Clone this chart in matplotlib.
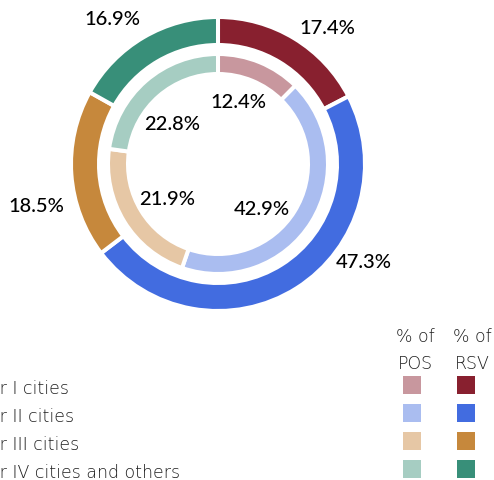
import matplotlib.pyplot as plt
import numpy as np

plt.rcParams["font.family"] = ["Lato", "DejaVu Sans"]

categories = ["Tier I cities", "Tier II cities", "Tier III cities", "Tier IV cities and others"]
rsv = [17.4, 47.3, 18.5, 16.9]
pos = [12.4, 42.9, 21.9, 22.8]
rsv_colors = ["#88202f", "#426ce0", "#c6883c", "#388f79"]
pos_colors = ["#c8979e", "#aabdf0", "#e6c7a5", "#a6cdc2"]

# 画面座標 (y は上向き)
W, H = 494, 480
cx, cy = 218, H - 164

fig = plt.figure(figsize=(W / 100, H / 100), dpi=100)
ax = fig.add_axes([0, 0, 1, 1])

ax.pie(rsv, colors=rsv_colors, radius=147, center=(cx, cy), startangle=90,
       counterclock=False, wedgeprops=dict(width=28, edgecolor="white", linewidth=2.9))
ax.pie(pos, colors=pos_colors, radius=110, center=(cx, cy), startangle=90,
       counterclock=False, wedgeprops=dict(width=20, edgecolor="white", linewidth=2.9))

ax.set_xlim(0, W)
ax.set_ylim(0, H)
ax.set_aspect("equal")
ax.axis("off")


def label_ring(values, frac, radius):
    start = 90.0
    for v, f, r in zip(values, frac, radius):
        span = v * 3.6
        a = np.deg2rad(start - span * f)
        ax.text(cx + r * np.cos(a), cy + r * np.sin(a), f"{v}%", ha="center", va="center",
                fontsize=14.5, fontweight="medium", color="black")
        start -= span


label_ring(rsv, [0.62, 0.36, 0.36, 0.40], [174, 176, 186, 179])
label_ring(pos, [0.40, 0.59, 0.45, 0.40], [65, 63, 62, 60])

# 凡例
lg = dict(fontsize=12.5, color="#1e1e1e", family=["DejaVu Sans"], fontweight="light")
row_y = H - np.array([385, 413, 441, 469])
ax.text(415, H - 337, "% of", ha="center", va="center", **lg)
ax.text(415, H - 364, "POS", ha="center", va="center", **lg)
ax.text(472, H - 337, "% of", ha="center", va="center", **lg)
ax.text(472, H - 364, "RSV", ha="center", va="center", **lg)
for i, name in enumerate(categories):
    ax.text(-26, row_y[i] - 4, name, ha="left", va="center", **lg)
ax.scatter([412] * 4, row_y, marker="s", s=150, c=pos_colors, linewidths=0)
ax.scatter([466] * 4, row_y, marker="s", s=150, c=rsv_colors, linewidths=0)

fig.savefig("out.png", dpi=100)
